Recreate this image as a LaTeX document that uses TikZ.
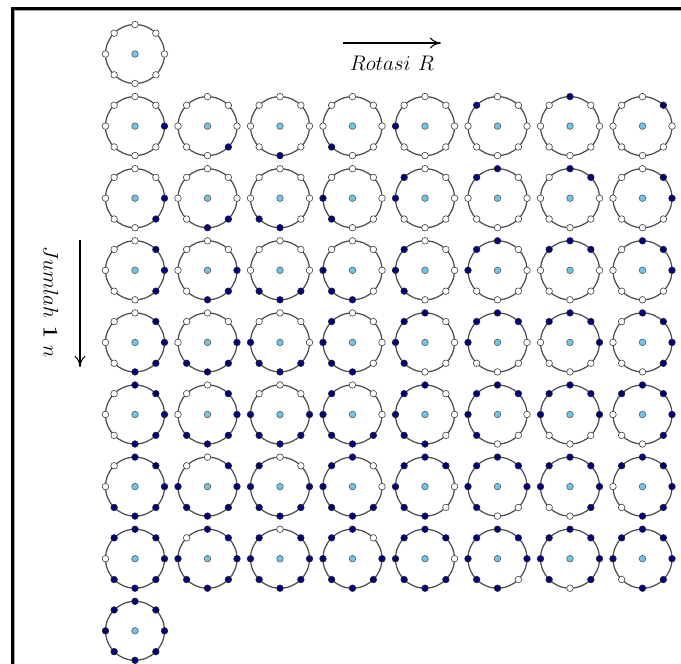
\documentclass[tikz,border=0pt]{standalone}
\usepackage{xcolor}
\usetikzlibrary{arrows.meta}
\definecolor{pixnavy}{HTML}{000080}
\definecolor{pixsky}{HTML}{6CC6EE}

%% one LBP ring: #1,#2 centre (px), #3 first dark pixel, #4 number of dark pixels
\newcommand{\lbpring}[4]{%
  \begin{scope}[shift={(#1,#2)}, x=1cm, y=1cm]
    \draw[ring] (0,0) circle (\R);
    \foreach \k in {0,...,7}{
      \pgfmathtruncatemacro{\on}{mod(\k-(#3)+16,8)<(#4) ? 1 : 0}
      \ifnum\on=1
        \filldraw[pixon] (-45*\k:\R) circle (\rd);
      \else
        \filldraw[pixoff] (-45*\k:\R) circle (\rd);
      \fi
    }
    \filldraw[centre] (0,0) circle (\rd);
  \end{scope}}

\begin{document}
\begin{tikzpicture}[
    x=0.02cm, y=-0.02cm,
    every node/.style={inner sep=1pt},
    ring/.style  ={line width=0.7pt, draw=black!70},
    pixon/.style ={fill=pixnavy, draw=black!85, line width=0.35pt},
    pixoff/.style={fill=white, draw=black!75, line width=0.35pt},
    centre/.style={fill=pixsky, draw=black!65, line width=0.35pt},
    frame/.style ={line width=1.5pt, draw=black},
    shade/.style ={line width=0.6pt, draw=black!35},
    arr/.style   ={-{To[length=2.2mm,width=2.2mm]}, line width=0.6pt},
    lbl/.style   ={font=\fontsize{13}{15}\selectfont},
  ]
  \useasboundingbox (0,0) rectangle (681,664);

  %% --- common geometry --------------------------------------------------
  \def\R{0.59}    % ring radius (cm)
  \def\rd{0.066}  % pixel radius (cm)
  \def\xo{135}    % first column
  \def\yo{54}     % first row
  \def\dx{72.5}   % column step
  \def\dy{72.1}   % row step

  % frame (top and left only)
  \draw[frame] (12.5,664) -- (12.5,8.7) -- (681,8.7);
  \draw[shade] (14.5,664) -- (14.5,10.7) -- (681,10.7);

  % all pixels off
  \lbpring{\xo}{\yo}{0}{0}

  % rows: number of ones, columns: rotation
  \foreach \n in {1,...,7}{
    \foreach \r in {0,...,7}{
      \pgfmathsetmacro{\cx}{\xo+\dx*\r}
      \pgfmathsetmacro{\cy}{\yo+\dy*\n}
      \pgfmathtruncatemacro{\st}{\r-floor((\n-1)/2)}
      \lbpring{\cx}{\cy}{\st}{\n}
    }
  }

  % all pixels on
  \lbpring{\xo}{\yo+8*\dy}{0}{8}

  % rotation label
  \coordinate (rotA) at (343,43);
  \coordinate (rotB) at (441,43);
  \draw[arr] (rotA) -- (rotB);
  \node[lbl] (rot) at (392,63) {$Rotasi\ R$};

  % number of ones label
  \coordinate (jmlA) at (80,240);
  \coordinate (jmlB) at (80,367);
  \draw[arr] (jmlA) -- (jmlB);
  \node[lbl, rotate=-90] (jml) at (51,302) {$Jumlah\ \mathbf{1}\ n$};

\end{tikzpicture}
\end{document}
